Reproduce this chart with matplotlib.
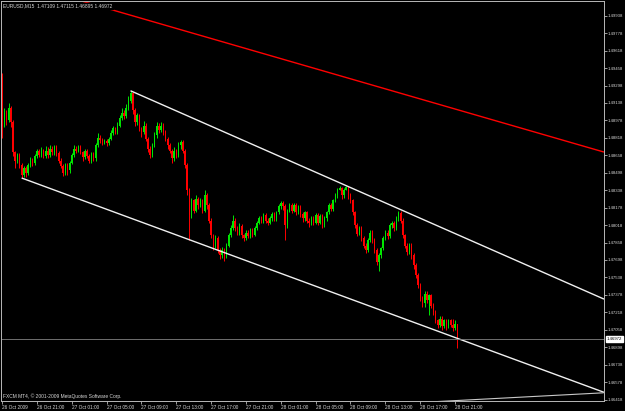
import matplotlib
matplotlib.use("Agg")
import matplotlib.pyplot as plt
import matplotlib.transforms as mtransforms

# EURUSD M15 bars, 26 Oct 17:00 .. 28 Oct 21:15
first_open = 1.4938
closes = [
    1.4893, 1.4905, 1.4898, 1.4909, 1.4896, 1.4869, 1.4861, 1.4866, 1.4857, 1.4848,
    1.4854, 1.4850, 1.4857, 1.4861, 1.4859, 1.4865, 1.4870, 1.4866, 1.4870, 1.4865,
    1.4870, 1.4866, 1.4872, 1.4869, 1.4873, 1.4868, 1.4861, 1.4856, 1.4850, 1.4857,
    1.4852, 1.4859, 1.4866, 1.4872, 1.4870, 1.4873, 1.4869, 1.4864, 1.4870, 1.4865,
    1.4861, 1.4867, 1.4863, 1.4875, 1.4882, 1.4880, 1.4878, 1.4879, 1.4877, 1.4881,
    1.4886, 1.4891, 1.4887, 1.4893, 1.4900, 1.4905, 1.4902, 1.4909, 1.4916, 1.4923,
    1.4907, 1.4896, 1.4903, 1.4891, 1.4887, 1.4893, 1.4881, 1.4872, 1.4866, 1.4875,
    1.4884, 1.4893, 1.4889, 1.4893, 1.4887, 1.4881, 1.4875, 1.4870, 1.4863, 1.4870,
    1.4866, 1.4875, 1.4878, 1.4870, 1.4857, 1.4834, 1.4811, 1.4825, 1.4815, 1.4826,
    1.4820, 1.4825, 1.4815, 1.4829, 1.4820, 1.4806, 1.4793, 1.4783, 1.4790, 1.4779,
    1.4774, 1.4779, 1.4774, 1.4783, 1.4793, 1.4799, 1.4806, 1.4799, 1.4795, 1.4801,
    1.4793, 1.4790, 1.4795, 1.4792, 1.4797, 1.4793, 1.4799, 1.4804, 1.4808, 1.4806,
    1.4811, 1.4806, 1.4804, 1.4808, 1.4812, 1.4808, 1.4814, 1.4819, 1.4822, 1.4819,
    1.4802, 1.4815, 1.4820, 1.4815, 1.4820, 1.4814, 1.4818, 1.4812, 1.4808, 1.4814,
    1.4806, 1.4804, 1.4808, 1.4804, 1.4811, 1.4804, 1.4810, 1.4802, 1.4808, 1.4814,
    1.4820, 1.4817, 1.4825, 1.4829, 1.4834, 1.4836, 1.4829, 1.4834, 1.4837, 1.4829,
    1.4825, 1.4814, 1.4802, 1.4794, 1.4799, 1.4790, 1.4783, 1.4779, 1.4788, 1.4795,
    1.4788, 1.4779, 1.4768, 1.4774, 1.4781, 1.4790, 1.4795, 1.4792, 1.4802, 1.4804,
    1.4799, 1.4808, 1.4813, 1.4806, 1.4793, 1.4783, 1.4777, 1.4783, 1.4774, 1.4765,
    1.4756, 1.4747, 1.4735, 1.4730, 1.4739, 1.4733, 1.4738, 1.4728, 1.4722, 1.4715,
    1.4710, 1.4716, 1.4709, 1.4715, 1.4709, 1.4715, 1.4710, 1.4707, 1.47109, 1.46972,
]
highs = [
    1.4941, 1.4909, 1.4907, 1.4914, 1.4911, 1.4898, 1.4870, 1.4868, 1.4868, 1.4859,
    1.4856, 1.4856, 1.4859, 1.4864, 1.4863, 1.4867, 1.4872, 1.4872, 1.4873, 1.4872,
    1.4874, 1.4873, 1.4875, 1.4874, 1.4875, 1.4875, 1.4870, 1.4863, 1.4858, 1.4859,
    1.4859, 1.4861, 1.4868, 1.4875, 1.4874, 1.4875, 1.4875, 1.4870, 1.4872, 1.4872,
    1.4867, 1.4869, 1.4869, 1.4877, 1.4886, 1.4884, 1.4882, 1.4881, 1.4881, 1.4883,
    1.4889, 1.4893, 1.4892, 1.4896, 1.4903, 1.4909, 1.4907, 1.4913, 1.4920, 1.4925,
    1.4924, 1.4909, 1.4905, 1.4904, 1.4892, 1.4897, 1.4895, 1.4883, 1.4874, 1.4877,
    1.4887, 1.4896, 1.4895, 1.4896, 1.4895, 1.4889, 1.4883, 1.4877, 1.4872, 1.4873,
    1.4872, 1.4878, 1.4880, 1.4880, 1.4872, 1.4859, 1.4836, 1.4827, 1.4826, 1.4829,
    1.4828, 1.4827, 1.4826, 1.4834, 1.4831, 1.4822, 1.4808, 1.4794, 1.4793, 1.4792,
    1.4781, 1.4782, 1.4781, 1.4785, 1.4795, 1.4802, 1.4811, 1.4808, 1.4801, 1.4804,
    1.4803, 1.4794, 1.4797, 1.4797, 1.4799, 1.4799, 1.4801, 1.4806, 1.4810, 1.4810,
    1.4813, 1.4813, 1.4808, 1.4810, 1.4814, 1.4814, 1.4815, 1.4821, 1.4824, 1.4824,
    1.4821, 1.4817, 1.4822, 1.4822, 1.4822, 1.4822, 1.4820, 1.4820, 1.4814, 1.4815,
    1.4815, 1.4808, 1.4810, 1.4810, 1.4813, 1.4813, 1.4812, 1.4812, 1.4810, 1.4815,
    1.4822, 1.4822, 1.4826, 1.4831, 1.4836, 1.4838, 1.4837, 1.4836, 1.4838, 1.4838,
    1.4831, 1.4826, 1.4815, 1.4804, 1.4801, 1.4801, 1.4792, 1.4785, 1.4790, 1.4797,
    1.4797, 1.4790, 1.4781, 1.4776, 1.4782, 1.4792, 1.4797, 1.4797, 1.4804, 1.4806,
    1.4806, 1.4810, 1.4815, 1.4815, 1.4808, 1.4794, 1.4785, 1.4785, 1.4785, 1.4776,
    1.4767, 1.4758, 1.4749, 1.4737, 1.4741, 1.4741, 1.4739, 1.4739, 1.4730, 1.4724,
    1.4716, 1.4718, 1.4718, 1.4716, 1.4716, 1.4716, 1.4716, 1.4716, 1.4715, 1.47115,
]
lows = [
    1.4882, 1.4892, 1.4894, 1.4896, 1.4892, 1.4865, 1.4854, 1.4859, 1.4854, 1.4845,
    1.4846, 1.4846, 1.4848, 1.4855, 1.4856, 1.4857, 1.4863, 1.4864, 1.4864, 1.4863,
    1.4863, 1.4863, 1.4864, 1.4866, 1.4866, 1.4865, 1.4859, 1.4854, 1.4847, 1.4848,
    1.4848, 1.4850, 1.4858, 1.4864, 1.4868, 1.4869, 1.4867, 1.4861, 1.4862, 1.4863,
    1.4859, 1.4859, 1.4861, 1.4861, 1.4873, 1.4877, 1.4875, 1.4876, 1.4874, 1.4875,
    1.4880, 1.4884, 1.4885, 1.4885, 1.4892, 1.4898, 1.4899, 1.4900, 1.4907, 1.4914,
    1.4904, 1.4893, 1.4894, 1.4888, 1.4883, 1.4885, 1.4879, 1.4869, 1.4863, 1.4864,
    1.4873, 1.4882, 1.4886, 1.4887, 1.4884, 1.4879, 1.4872, 1.4868, 1.4859, 1.4861,
    1.4863, 1.4864, 1.4872, 1.4868, 1.4854, 1.4829, 1.4788, 1.4808, 1.4813, 1.4814,
    1.4817, 1.4818, 1.4813, 1.4814, 1.4817, 1.4804, 1.4790, 1.4779, 1.4781, 1.4776,
    1.4771, 1.4772, 1.4769, 1.4772, 1.4782, 1.4791, 1.4797, 1.4796, 1.4793, 1.4793,
    1.4790, 1.4787, 1.4788, 1.4790, 1.4790, 1.4791, 1.4792, 1.4797, 1.4803, 1.4804,
    1.4804, 1.4804, 1.4802, 1.4803, 1.4806, 1.4806, 1.4806, 1.4812, 1.4817, 1.4816,
    1.4788, 1.4799, 1.4814, 1.4813, 1.4814, 1.4811, 1.4812, 1.4809, 1.4805, 1.4806,
    1.4804, 1.4800, 1.4802, 1.4802, 1.4803, 1.4802, 1.4803, 1.4799, 1.4800, 1.4806,
    1.4812, 1.4815, 1.4815, 1.4823, 1.4827, 1.4834, 1.4826, 1.4827, 1.4834, 1.4826,
    1.4822, 1.4811, 1.4799, 1.4792, 1.4793, 1.4787, 1.4781, 1.4776, 1.4777, 1.4786,
    1.4785, 1.4776, 1.4765, 1.4760, 1.4772, 1.4779, 1.4788, 1.4789, 1.4790, 1.4799,
    1.4796, 1.4797, 1.4806, 1.4804, 1.4790, 1.4781, 1.4774, 1.4775, 1.4771, 1.4762,
    1.4753, 1.4744, 1.4732, 1.4727, 1.4727, 1.4730, 1.4719, 1.4726, 1.4719, 1.4712,
    1.4707, 1.4708, 1.4706, 1.4707, 1.4706, 1.4707, 1.4708, 1.4705, 1.4706, 1.46895,
]
opens = [first_open] + closes[:-1]

time_label_bars = [0, 16, 32, 48, 64, 80, 96, 112, 128, 144, 160, 176, 192, 208]
time_labels = ['26 Oct 2009', '26 Oct 21:00', '27 Oct 01:00', '27 Oct 05:00',
               '27 Oct 09:00', '27 Oct 13:00', '27 Oct 17:00', '27 Oct 21:00',
               '28 Oct 01:00', '28 Oct 05:00', '28 Oct 09:00', '28 Oct 13:00',
               '28 Oct 17:00', '28 Oct 21:00']
price_ticks = [1.49938, 1.49778, 1.49618, 1.49458, 1.49298, 1.49138, 1.48978,
               1.48818, 1.48658, 1.48498, 1.48338, 1.48178, 1.48018, 1.47858,
               1.47698, 1.47538, 1.47378, 1.47218, 1.47058, 1.46898, 1.46738,
               1.46578, 1.46418]

# trend lines: two anchor points (bar, price), drawn as rays to the right
red_line = ([37, 276], [1.5007, 1.4869])
upper_line = ([59, 158], [1.4925, 1.4838])
lower_line = ([9, 209], [1.4845, 1.4698])
bottom_line = ([200, 276], [1.4640, 1.4648])

last_price = closes[-1]
x_min, x_max = -0.46, 276.4
y_min, y_max = 1.46405, 1.50073

bg = '#000000'
fg = '#d8d8d8'
frame = '#b8b8b8'
bull = '#00e600'
bear = '#ff0000'
fnt = 'Liberation Sans'

fig = plt.figure(figsize=(6.25, 4.11), dpi=100, facecolor=bg)
ax = fig.add_axes([1 / 625, 10 / 411, 603 / 625, 400 / 411], facecolor=bg)

for i in range(len(closes)):
    col = bull if closes[i] >= opens[i] else bear
    ax.vlines(i, lows[i], highs[i], color=col, lw=0.7)
    h = closes[i] - opens[i]
    if abs(h) < 0.00003:
        h = 0.00003
    ax.bar(i, h, bottom=opens[i], width=0.6, color=col, linewidth=0)


def ray(line, **kw):
    (xa, xb), (ya, yb) = line
    slope = (yb - ya) / (xb - xa)
    ax.plot([xa, x_max], [ya, ya + slope * (x_max - xa)], **kw)


ray(red_line, color='#ff0000', lw=1.0, solid_capstyle='butt')
ray(upper_line, color='#f0f0f0', lw=1.0, solid_capstyle='butt')
ray(lower_line, color='#f0f0f0', lw=1.0, solid_capstyle='butt')
ax.plot(bottom_line[0], bottom_line[1], color='#c8c8c8', lw=0.8)

ax.axhline(last_price, color='#808080', lw=0.6)

ax.set_xlim(x_min, x_max)
ax.set_ylim(y_min, y_max)

ax.yaxis.tick_right()
ax.set_yticks(price_ticks)
ax.set_yticklabels(['%.5f' % p for p in price_ticks])
ax.set_xticks(time_label_bars)
ax.set_xticklabels(time_labels, ha='left')
ax.tick_params(axis='y', direction='out', length=2, width=0.6, color=frame,
               labelsize=3.1, labelcolor=fg, pad=0.8)
ax.tick_params(axis='x', direction='out', length=2, width=0.6, color=frame,
               labelsize=3.4, labelcolor=fg, pad=0.6)
for lab in ax.get_xticklabels() + ax.get_yticklabels():
    lab.set_fontfamily(fnt)
for sp in ax.spines.values():
    sp.set_color(frame)
    sp.set_linewidth(0.7)

trans = mtransforms.blended_transform_factory(ax.transAxes, ax.transData)
ax.text(1.0045, last_price, '%.5f' % last_price, transform=trans, fontsize=3.1,
        family=fnt, color='black', va='center', ha='left', clip_on=False,
        bbox=dict(facecolor='white', edgecolor='white', pad=0.5))

fig.text(3 / 625, 1 - 6 / 411,
         'EURUSD,M15  %.5f %.5f %.5f %.5f' % (opens[-1], highs[-1], lows[-1], closes[-1]),
         fontsize=3.5, family=fnt, color=fg, va='center', ha='left',
         bbox=dict(facecolor=bg, edgecolor=bg, pad=0.3))
ax.text(2 / 603, 5 / 400, 'FXCM MT4, \u00a9 2001-2009 MetaQuotes Software Corp.',
        transform=ax.transAxes, fontsize=3.5, family=fnt, color=fg,
        va='center', ha='left')

fig.savefig('out.png', dpi=100, facecolor=bg)
